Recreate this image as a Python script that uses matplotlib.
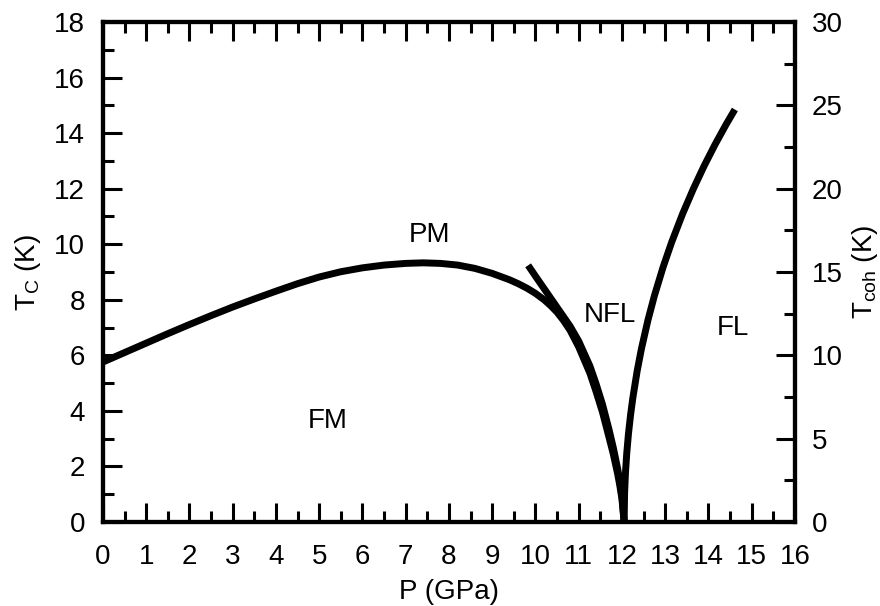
import matplotlib
matplotlib.use("Agg")
import matplotlib.pyplot as plt
from matplotlib.ticker import MultipleLocator

plt.rcParams['font.family'] = ['Liberation Sans', 'DejaVu Sans']
plt.rcParams['mathtext.default'] = 'regular'

# T_C curve (left axis, K)
p_tc = [0.0, 0.5, 1.0, 1.5, 2.0, 2.5, 3.0, 3.5, 4.0, 4.5, 5.0, 5.5, 6.0, 6.5, 7.0, 7.4,
        7.8, 8.2, 8.6, 9.0, 9.4, 9.6, 9.8, 10.0, 10.2, 10.35, 10.5, 10.65, 10.8, 11.0,
        11.26, 11.4, 11.55, 11.7, 11.8, 11.9, 11.95, 12.0, 12.05]
tc = [5.76, 6.10, 6.44, 6.78, 7.11, 7.43, 7.74, 8.03, 8.31, 8.58, 8.82, 9.01, 9.15, 9.25, 9.31, 9.33,
      9.31, 9.25, 9.13, 8.95, 8.72, 8.58, 8.42, 8.23, 8.0, 7.79, 7.55, 7.25, 6.9, 6.3,
      5.35, 4.7, 3.95, 3.05, 2.44, 1.73, 1.31, 0.82, 0.0]

# T_coh curves (right axis, K)
p_nfl = [9.83, 10.0, 10.2, 10.4, 10.6, 10.8, 11.0, 11.26, 11.4, 11.55, 11.7, 11.8, 11.9, 11.95, 12.0, 12.05]
tcoh_nfl = [15.4, 14.75, 14.0, 13.25, 12.5, 11.75, 10.85, 9.35, 8.3, 7.05, 5.55, 4.45, 3.2, 2.45, 1.55, 0.0]

p_fl = [12.05, 12.06, 12.08, 12.11, 12.15, 12.2, 12.25, 12.35, 12.45, 12.6, 12.75, 12.95, 13.15,
        13.4, 13.65, 13.9, 14.15, 14.4, 14.61]
tcoh_fl = [0.0, 1.70, 2.93, 4.12, 5.30, 6.46, 7.43, 9.05, 10.40, 12.11, 13.58, 15.29, 16.80,
           18.48, 19.99, 21.37, 22.64, 23.82, 24.75]

labels = ['PM', 'NFL', 'FL', 'FM']
label_p = [7.54, 11.72, 14.57, 5.2]
label_t = [10.33, 7.45, 6.98, 3.64]

fig = plt.figure(figsize=(8.8, 6.06), dpi=100)
ax = fig.add_axes([0.117, 0.1386, 0.7864, 0.8251])
ax2 = ax.twinx()

lw = 5.0
style = dict(color='black', lw=lw, solid_capstyle='butt', solid_joinstyle='round')
ax.plot(p_tc, tc, **style)
ax2.plot(p_nfl, tcoh_nfl, **style)
ax2.plot(p_fl, tcoh_fl, **style)

ax.set_xlim(0, 16)
ax.set_ylim(0, 18)
ax2.set_ylim(0, 30)

fs = 20
ax.xaxis.set_major_locator(MultipleLocator(1))
ax.xaxis.set_minor_locator(MultipleLocator(0.5))
ax.yaxis.set_major_locator(MultipleLocator(2))
ax.yaxis.set_minor_locator(MultipleLocator(1))
ax2.yaxis.set_major_locator(MultipleLocator(5))
ax2.yaxis.set_minor_locator(MultipleLocator(2.5))

for a in (ax, ax2):
    for s in a.spines.values():
        s.set_linewidth(3)
ax.tick_params(which='both', direction='in', top=True, right=False, width=2.2, labelsize=fs)
ax.tick_params(which='major', length=14)
ax.tick_params(which='minor', length=8)
ax.tick_params(axis='x', pad=16)
ax.tick_params(axis='y', pad=13)
ax2.tick_params(which='both', direction='in', width=2.2, labelsize=fs, pad=12)
ax2.tick_params(which='major', length=14)
ax2.tick_params(which='minor', length=8)

ax.set_xlabel('P (GPa)', fontsize=fs, labelpad=6)
ax.set_ylabel('T$_{C}$ (K)', fontsize=fs, labelpad=8)
ax2.set_ylabel('T$_{coh}$ (K)', fontsize=fs, labelpad=5)

for t, x, y in zip(labels, label_p, label_t):
    ax.text(x, y, t, fontsize=fs, ha='center', va='center')

fig.savefig('out.png', dpi=100)
